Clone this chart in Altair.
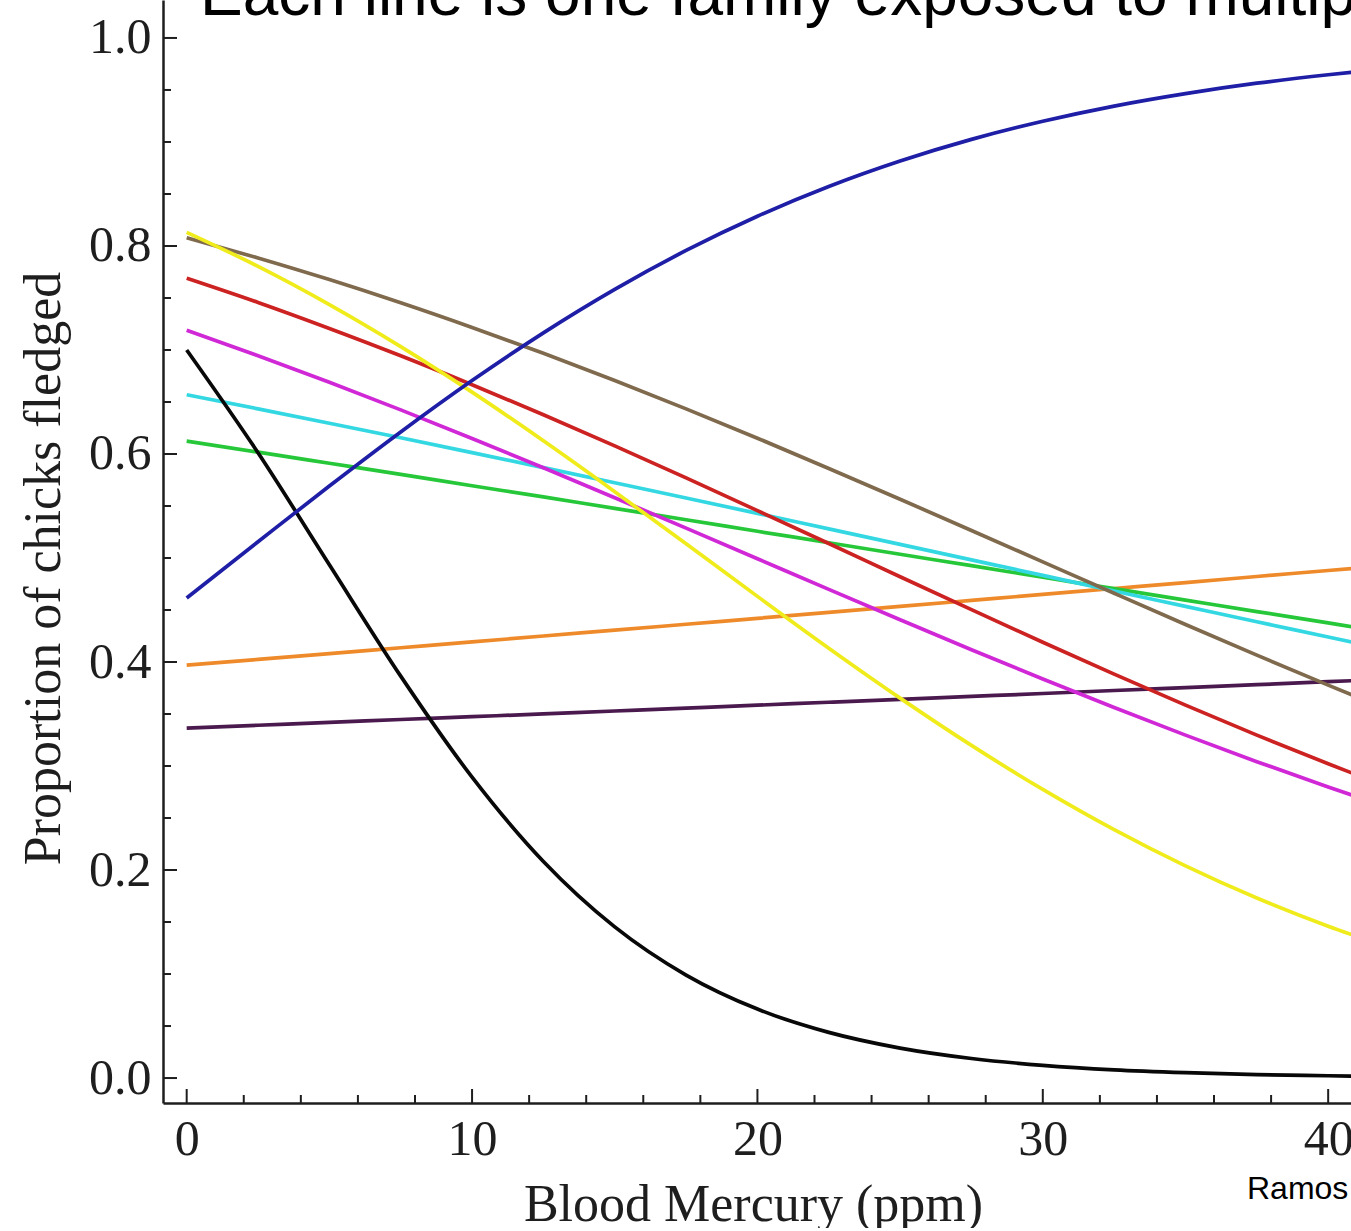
import altair as alt
import pandas as pd

# Blood mercury levels (ppm) at which each fitted curve is sampled
mercury = [0, 2.5, 5, 7.5, 10, 12.5, 15, 17.5, 20, 22.5, 25, 27.5, 30, 32.5, 35, 37.5, 40, 41]

# Proportion of chicks fledged, one list per family
blue = [0.4616, 0.5156, 0.5692, 0.6212, 0.6706, 0.7165, 0.7583, 0.7957, 0.8286,
        0.8572, 0.8817, 0.9025, 0.9199, 0.9345, 0.9465, 0.9565, 0.9646, 0.9675]
black = [0.7000, 0.6012, 0.4935, 0.3864, 0.2893, 0.2082, 0.1453, 0.0990, 0.0663,
         0.0439, 0.0288, 0.0188, 0.0122, 0.0079, 0.0052, 0.0033, 0.0022, 0.0018]
yellow = [0.8131, 0.7804, 0.7437, 0.7033, 0.6595, 0.6127, 0.5638, 0.5136, 0.4631,
          0.4133, 0.3653, 0.3198, 0.2775, 0.2388, 0.2040, 0.1731, 0.1460, 0.1362]
brown = [0.8080, 0.7885, 0.7677, 0.7454, 0.7217, 0.6968, 0.6706, 0.6434, 0.6152,
         0.5861, 0.5565, 0.5265, 0.4963, 0.4661, 0.4361, 0.4066, 0.3778, 0.3665]
red = [0.7690, 0.7457, 0.7207, 0.6944, 0.6666, 0.6377, 0.6078, 0.5770, 0.5456,
       0.5139, 0.4820, 0.4503, 0.4190, 0.3883, 0.3585, 0.3297, 0.3022, 0.2915]
magenta = [0.7189, 0.6945, 0.6689, 0.6424, 0.6149, 0.5867, 0.5579, 0.5287, 0.4993,
           0.4698, 0.4407, 0.4118, 0.3837, 0.3562, 0.3297, 0.3042, 0.2799, 0.2705]
cyan = [0.6570, 0.6434, 0.6296, 0.6156, 0.6013, 0.5869, 0.5724, 0.5577, 0.5429,
        0.5280, 0.5131, 0.4982, 0.4833, 0.4683, 0.4535, 0.4387, 0.4241, 0.4182]
green = [0.6123, 0.6018, 0.5911, 0.5804, 0.5695, 0.5587, 0.5477, 0.5368, 0.5257,
         0.5147, 0.5036, 0.4926, 0.4815, 0.4705, 0.4595, 0.4485, 0.4376, 0.4332]
orange = [0.3970, 0.4025, 0.4081, 0.4137, 0.4193, 0.4250, 0.4306, 0.4363, 0.4420,
          0.4477, 0.4534, 0.4592, 0.4650, 0.4707, 0.4764, 0.4822, 0.4880, 0.4903]
purple = [0.3365, 0.3392, 0.3419, 0.3447, 0.3474, 0.3501, 0.3529, 0.3557, 0.3585,
          0.3613, 0.3641, 0.3669, 0.3697, 0.3726, 0.3754, 0.3782, 0.3811, 0.3822]

families = ["orange", "purple", "green", "cyan", "magenta", "red", "brown", "yellow", "black", "blue"]
series = [orange, purple, green, cyan, magenta, red, brown, yellow, black, blue]
line_colors = ["#ee8a2a", "#4a1a4e", "#26c83a", "#34d8e2", "#d028d6",
               "#cc2222", "#806a4e", "#f0ec1c", "#080808", "#1e1ea6"]

# Frame tick positions
x_major = [0, 10, 20, 30, 40]
x_minor = [2, 4, 6, 8, 12, 14, 16, 18, 22, 24, 26, 28, 32, 34, 36, 38]
y_major = [0.0, 0.2, 0.4, 0.6, 0.8, 1.0]
y_minor = [0.05, 0.1, 0.15, 0.25, 0.3, 0.35, 0.45, 0.5, 0.55,
           0.65, 0.7, 0.75, 0.85, 0.9, 0.95]

title_text = "Each line is one family exposed to multiple levels of mercury"
credit_text = "Ramos"

W, H = 1188, 1103
x_scale = alt.Scale(domain=[-0.83, 40.80], nice=False, zero=False)
y_scale = alt.Scale(domain=[-0.024, 1.0365], nice=False, zero=False)

serif = "Liberation Serif"
ink = "#1e1e1e"

x_axis = alt.Axis(values=x_major, format="d", ticks=False, grid=False,
                  domainColor=ink, domainWidth=2.5,
                  labelFont=serif, labelFontSize=50, labelColor=ink,
                  labelPadding=11, labelFlush=False,
                  title="Blood Mercury (ppm)", titleFont=serif, titleFontSize=52,
                  titleFontWeight="normal", titleColor=ink,
                  titleX=590, titleY=117, titleBaseline="alphabetic",
                  titleAlign="center")
y_axis = alt.Axis(values=y_major, format=".1f", ticks=False, grid=False,
                  domainColor=ink, domainWidth=2.5,
                  labelFont=serif, labelFontSize=50, labelColor=ink,
                  labelPadding=12, labelFlush=False,
                  title="Proportion of chicks fledged", titleFont=serif,
                  titleFontSize=52, titleFontWeight="normal", titleColor=ink,
                  titleX=-104, titleY=568, titleAngle=270,
                  titleBaseline="alphabetic", titleAlign="center")

rows = []
for fam, vals in zip(families, series):
    for xv, yv in zip(mercury, vals):
        rows.append({"family": fam, "mercury": xv, "fledged": yv})
df = pd.DataFrame(rows)

lines = alt.Chart(df).mark_line(strokeWidth=3.7, clip=True, interpolate="monotone").encode(
    x=alt.X("mercury:Q", scale=x_scale, axis=x_axis),
    y=alt.Y("fledged:Q", scale=y_scale, axis=y_axis),
    color=alt.Color("family:N", scale=alt.Scale(domain=families, range=line_colors), legend=None),
    order=alt.Order("mercury:Q"),
    detail="family:N",
)

# Inward frame ticks along the bottom and left edges
xt_major = alt.Chart(pd.DataFrame({"mercury": x_major})).mark_rule(color=ink, strokeWidth=2).encode(
    x=alt.X("mercury:Q", scale=x_scale, axis=x_axis), y=alt.value(H), y2=alt.value(H - 14))
xt_minor = alt.Chart(pd.DataFrame({"mercury": x_minor})).mark_rule(color=ink, strokeWidth=2).encode(
    x=alt.X("mercury:Q", scale=x_scale, axis=x_axis), y=alt.value(H), y2=alt.value(H - 8))
yt_major = alt.Chart(pd.DataFrame({"fledged": y_major})).mark_rule(color=ink, strokeWidth=2).encode(
    y=alt.Y("fledged:Q", scale=y_scale, axis=y_axis), x=alt.value(0), x2=alt.value(14))
yt_minor = alt.Chart(pd.DataFrame({"fledged": y_minor})).mark_rule(color=ink, strokeWidth=2).encode(
    y=alt.Y("fledged:Q", scale=y_scale, axis=y_axis), x=alt.value(0), x2=alt.value(8))

title_mark = alt.Chart(pd.DataFrame({"t": [title_text]})).mark_text(
    font="Liberation Sans", fontSize=64, align="left", baseline="alphabetic", color="#000000"
).encode(text="t:N", x=alt.value(37), y=alt.value(15))

credit_mark = alt.Chart(pd.DataFrame({"t": [credit_text]})).mark_text(
    font="Liberation Sans", fontSize=32, align="left", baseline="alphabetic", color="#000000"
).encode(text="t:N", x=alt.value(1084), y=alt.value(1199))

chart = alt.layer(
    lines, xt_major, xt_minor, yt_major, yt_minor, title_mark, credit_mark
).properties(
    width=W, height=H,
    autosize=alt.AutoSizeParams(type="none"),
    padding={"left": 163, "top": 0, "right": 0, "bottom": 125},
    background="white",
).configure_view(stroke=None)

chart.save("out.html", embed_options={"renderer": "svg", "actions": False})
